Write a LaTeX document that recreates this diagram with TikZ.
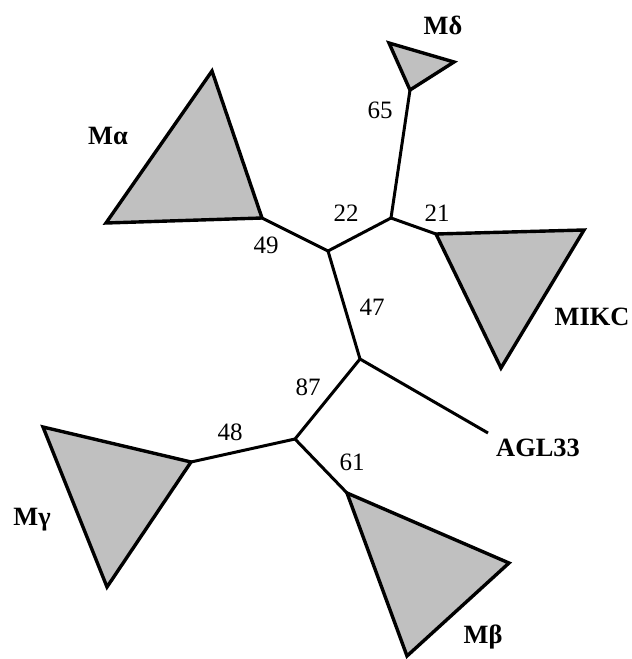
\documentclass[tikz,border=0pt]{standalone}
\usepackage{fontspec}
\setmainfont{Liberation Serif}
\definecolor{cladefill}{RGB}{192,192,192}
\begin{document}
\begin{tikzpicture}[x=0.5pt,y=-0.5pt,
  branch/.style={line width=1.5pt,line join=miter},
  clade/.style={line width=1.7pt,fill=cladefill,line join=miter},
  boot/.style={font=\fontsize{12.5}{14}\selectfont,inner sep=0pt},
  taxon/.style={font=\fontsize{13.2}{15}\selectfont\bfseries,inner sep=0pt}]
\useasboundingbox (0,0) rectangle (632,659);

% internal junctions
\coordinate (A) at (328,251);
\coordinate (B) at (391,218);
\coordinate (C) at (360,359);
\coordinate (D) at (295,439);

% clade apices and triangle corners
\coordinate (da) at (410,90);  \coordinate (d1) at (389,43);  \coordinate (d2) at (454,62);
\coordinate (aa) at (262,218); \coordinate (a1) at (212,71);  \coordinate (a2) at (106,223);
\coordinate (ka) at (436,234); \coordinate (k1) at (584,230); \coordinate (k2) at (501,368);
\coordinate (ga) at (191,462); \coordinate (g1) at (43,427);  \coordinate (g2) at (107,587);
\coordinate (ba) at (347,493); \coordinate (b1) at (509,563); \coordinate (b2) at (407,656);
\coordinate (agl) at (488,433);

% collapsed clades
\draw[clade] (da) -- (d1) -- (d2) -- cycle;
\draw[clade] (aa) -- (a1) -- (a2) -- cycle;
\draw[clade] (ka) -- (k1) -- (k2) -- cycle;
\draw[clade] (ga) -- (g1) -- (g2) -- cycle;
\draw[clade] (ba) -- (b1) -- (b2) -- cycle;

% branches
\draw[branch] (aa) -- (A) -- (B) -- (da);
\draw[branch] (B) -- (ka);
\draw[branch] (A) -- (C) -- (agl);
\draw[branch] (C) -- (D) -- (ga);
\draw[branch] (D) -- (ba);

% bootstrap values
\node[boot] (v65) at (380,110) {65};
\node[boot] (v22) at (346,213) {22};
\node[boot] (v21) at (437,213) {21};
\node[boot] (v49) at (266,245) {49};
\node[boot] (v47) at (372,307) {47};
\node[boot] (v87) at (308,387) {87};
\node[boot] (v48) at (230,432) {48};
\node[boot] (v61) at (352,462) {61};

% clade names
\node[taxon] (tD) at (443,25) {Mδ};
\node[taxon] (tA) at (108,136) {Mα};
\node[taxon] (tK) at (592,317) {MIKC};
\node[taxon] (tL) at (538,448) {AGL33};
\node[taxon] (tG) at (32,520) {Mγ};
\node[taxon] (tB) at (483,637) {Mβ};
\end{tikzpicture}
\end{document}
